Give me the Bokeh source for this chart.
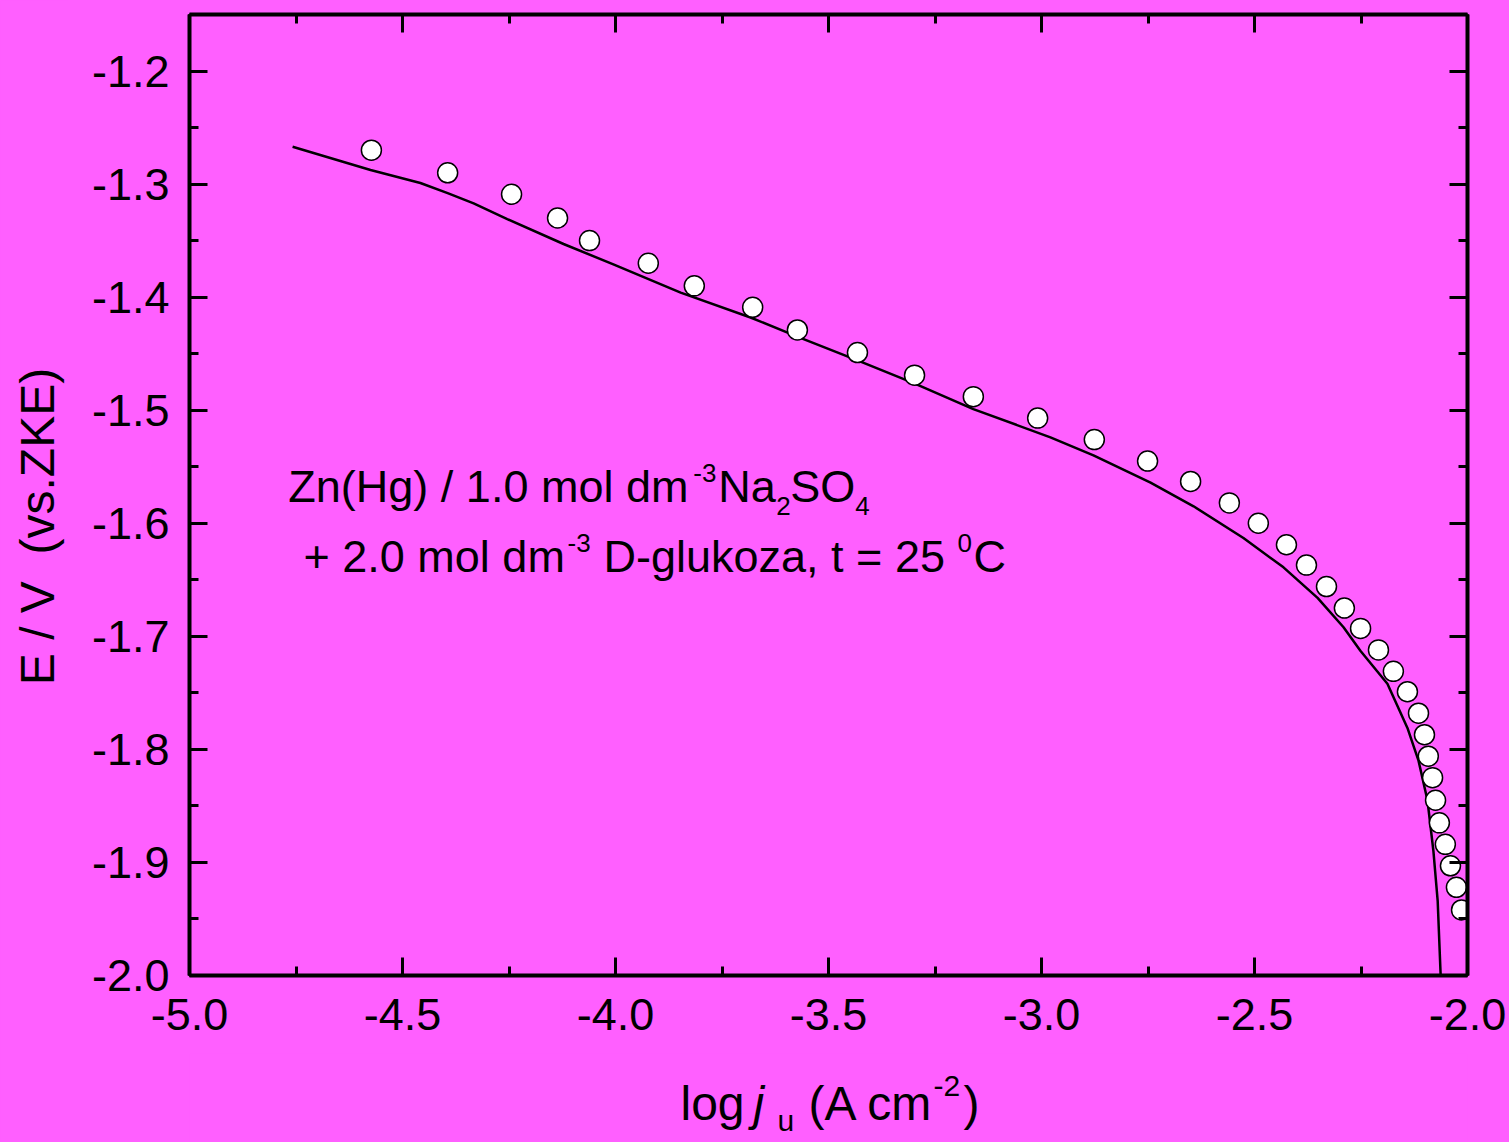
import math
from bokeh.plotting import figure
from bokeh.layouts import row, column
from bokeh.models import Range1d, LinearAxis, SingleIntervalTicker, Label, CustomJSTickFormatter
from bokeh.embed import file_html
from bokeh.resources import INLINE
from bokeh.core.templates import get_env

# ---- data ----
model_logj = [-4.758, -4.575, -4.458, -4.394, -4.333, -4.254, -4.122, -4.005, -3.847, -3.683,
              -3.566, -3.432, -3.300, -3.160, -2.979, -2.878, -2.744, -2.643, -2.526, -2.432,
              -2.352, -2.291, -2.251, -2.188, -2.141, -2.115, -2.094, -2.080, -2.070, -2.063]
model_E = [-1.267, -1.2875, -1.299, -1.308, -1.317, -1.331, -1.353, -1.371, -1.396, -1.418,
           -1.436, -1.456, -1.476, -1.499, -1.524, -1.540, -1.564, -1.585, -1.613, -1.639,
           -1.666, -1.692, -1.713, -1.742, -1.781, -1.810, -1.845, -1.890, -1.934, -2.000]

exp_logj = [-4.573, -4.394, -4.244, -4.136, -4.061, -3.923, -3.815, -3.678, -3.573, -3.432,
            -3.298, -3.160, -3.009, -2.876, -2.751, -2.650, -2.559, -2.491, -2.425, -2.378,
            -2.331, -2.289, -2.251, -2.209, -2.174, -2.141, -2.115, -2.101, -2.092, -2.082,
            -2.075, -2.066, -2.052, -2.040, -2.026, -2.014]
exp_E = [-1.270, -1.290, -1.309, -1.330, -1.350, -1.370, -1.390, -1.409, -1.429, -1.449,
         -1.469, -1.488, -1.507, -1.526, -1.545, -1.563, -1.582, -1.600, -1.619, -1.637,
         -1.656, -1.675, -1.693, -1.712, -1.731, -1.749, -1.768, -1.787, -1.806, -1.825,
         -1.845, -1.865, -1.884, -1.903, -1.922, -1.942]

x_limits = (-5.0, -2.0)
y_limits = (-2.0, -1.15)

BG = "#FF5FFF"
FONT = "Liberation Sans"
K_MID = 0.39  # baseline distance below the text-box middle, in em
BG_STYLE = {"background-color": BG}


def bare_fig(w, h, xr, yr, left=0, right=0):
    f = figure(width=w, height=h, output_backend="svg", toolbar_location=None,
               x_range=Range1d(*xr), y_range=Range1d(*yr),
               x_axis_location=None, y_axis_location=None,
               min_border_left=left, min_border_right=right,
               min_border_top=0, min_border_bottom=0, styles=BG_STYLE)
    f.background_fill_color = BG
    f.border_fill_color = BG
    f.outline_line_color = None
    f.grid.grid_line_color = None
    return f


p = figure(width=1441, height=1053, output_backend="svg", toolbar_location=None,
           x_range=Range1d(*x_limits), y_range=Range1d(*y_limits),
           x_axis_location=None, y_axis_location=None,
           min_border_left=121, min_border_right=42, min_border_top=14, min_border_bottom=78,
           styles=BG_STYLE)
p.background_fill_color = BG
p.border_fill_color = BG
p.outline_line_color = None
p.grid.grid_line_color = None


def make_axis(interval, labels=True):
    ax = LinearAxis(ticker=SingleIntervalTicker(interval=interval, num_minor_ticks=2))
    ax.axis_line_width = 4
    ax.major_tick_in = 18
    ax.major_tick_out = 0
    ax.minor_tick_in = 9
    ax.minor_tick_out = 0
    ax.major_tick_line_width = 3
    ax.minor_tick_line_width = 3
    ax.major_label_text_font = FONT
    ax.major_label_text_font_size = "45px"
    ax.major_label_text_color = "black"
    if labels:
        ax.formatter = CustomJSTickFormatter(code="return tick.toFixed(1)")
    else:
        ax.formatter = CustomJSTickFormatter(code="return ''")
        ax.major_label_standoff = 0
    return ax


xb = make_axis(0.5)
xb.major_label_standoff = 23
yl = make_axis(0.1)
yl.major_label_standoff = 20
p.add_layout(xb, "below")
p.add_layout(yl, "left")
p.add_layout(make_axis(0.5, labels=False), "above")
p.add_layout(make_axis(0.1, labels=False), "right")

p.line(model_logj, model_E, line_color="black", line_width=2.5)
p.scatter(exp_logj, exp_E, marker="circle", size=20, fill_color="white",
          line_color="black", line_width=1.5)


def add_pieces(fig, x, y, pieces):
    for text, dx, dy, size, style in pieces:
        fig.add_layout(Label(x=x, y=y, x_offset=dx, y_offset=dy + K_MID * size, text=text,
                             text_font=FONT, text_font_size=f"{size}px",
                             text_font_style=style, text_color="black",
                             text_baseline="middle", text_align="left"))


# annotation inside the plot
add_pieces(p, -4.768, -1.583, [
    ("Zn(Hg) / 1.0 mol dm", 0, 0, 45, "normal"),
    ("-3", 405, 21, 26, "normal"),
    ("Na", 430, 0, 45, "normal"),
    ("2", 488, -12, 26, "normal"),
    ("SO", 502, 0, 45, "normal"),
    ("4", 567, -12, 26, "normal"),
])
add_pieces(p, -4.7324, -1.6446, [
    ("+ 2.0 mol dm", 0, 0, 45, "normal"),
    ("-3", 264, 21, 26, "normal"),
    ("D-glukoza, t = 25", 300, 0, 45, "normal"),
    ("0", 654, 21, 26, "normal"),
    ("C", 670, 0, 45, "normal"),
])

# x axis title strip: same side borders as the plot, frame x = page pixels 189..1467
pb = bare_fig(1441, 89, (189, 1467), (-1142, -1053), left=121, right=42)
add_pieces(pb, 680, -1122, [
    ("log", 0, 0, 48, "normal"),
    ("j", 73, 0, 48, "italic"),
    ("u", 97, -10, 30, "normal"),
    ("(A cm", 128, 0, 48, "normal"),
    ("-2", 253, 25, 30, "normal"),
    (")", 283, 0, 48, "normal"),
])

# y axis title strip (coordinates = page pixels, y negated)
pl = bare_fig(68, 1142, (0, 68), (-1142, 0))
pl.add_layout(Label(x=37, y=-526, angle=math.pi / 2, text="E / V \u00a0(vs.ZKE)",
                    text_font=FONT, text_font_size="48px", text_color="black",
                    text_align="center", text_baseline="middle"))

layout = row(pl, column(p, pb, spacing=0, styles=BG_STYLE), spacing=0, styles=BG_STYLE)

page_css = "<style>html, body { background-color: %s; }</style>" % BG
template = get_env().from_string(
    '{% extends "file.html" %}'
    '{% block postamble %}{{ super() }}' + page_css + '{% endblock %}'
)
open("out.html", "w").write(file_html(layout, INLINE, template=template))
